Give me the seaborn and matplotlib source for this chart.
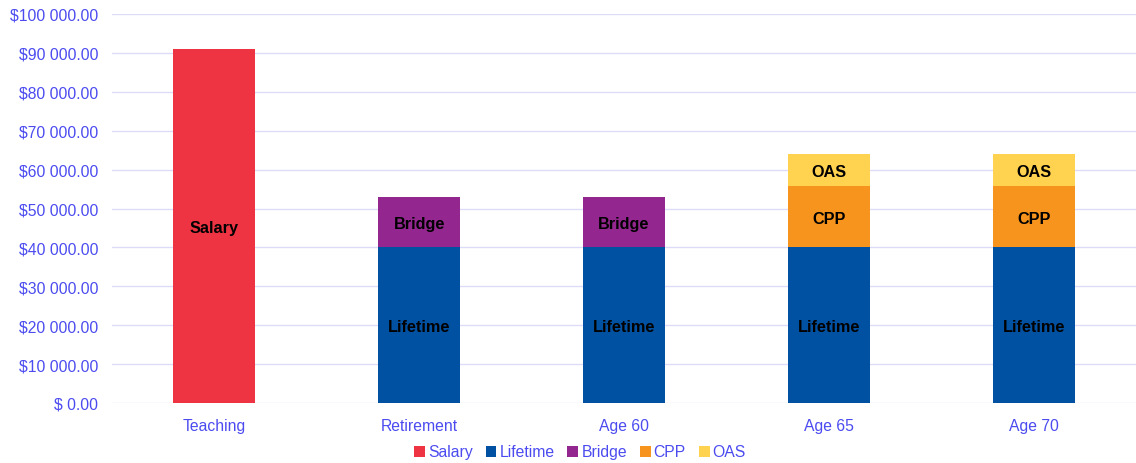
import numpy as np
import pandas as pd
import seaborn as sns
import matplotlib.pyplot as plt
from matplotlib.patches import Patch
from matplotlib.ticker import FuncFormatter

categories = ["Teaching", "Retirement", "Age 60", "Age 65", "Age 70"]
series = ["Salary", "Lifetime", "Bridge", "CPP", "OAS"]
salary = [91000, 0, 0, 0, 0]
lifetime = [0, 40100, 40100, 40100, 40100]
bridge = [0, 12800, 12800, 0, 0]
cpp = [0, 0, 0, 15600, 15600]
oas = [0, 0, 0, 8400, 8400]
colors = ["#EE3342", "#0051A2", "#93278F", "#F7941D", "#FFD24F"]
tick_color = "#4B4BF0"

sns.set_style("white")
plt.rcParams['font.family'] = ['Liberation Sans', 'DejaVu Sans']

values = np.array([salary, lifetime, bridge, cpp, oas], dtype=float)
tops = values.cumsum(axis=0)
bottoms = tops - values

fig = plt.figure(figsize=(11.36, 4.64), dpi=100)
ax = fig.add_axes([112 / 1136, 1 - 404 / 464, (1136 - 112) / 1136, (404 - 15) / 464])

# stacked bars: draw cumulative tops from the highest layer down
for i in range(len(series) - 1, -1, -1):
    df = pd.DataFrame({"cat": categories, "val": tops[i]})
    sns.barplot(data=df, x="cat", y="val", color=colors[i], width=0.4,
                saturation=1, linewidth=0, ax=ax, zorder=2)

# labels in the middle of each segment
for i, name in enumerate(series):
    for j in range(len(categories)):
        if values[i, j] > 0:
            ax.text(j, bottoms[i, j] + values[i, j] / 2, name, ha="center", va="center_baseline",
                    fontsize=11.7, fontweight="bold", color="black", zorder=3)

ax.set_ylim(0, 100000)
ax.set_xlim(-0.5, len(categories) - 0.5)
ax.set_yticks(np.arange(0, 100001, 10000))
ax.yaxis.set_major_formatter(FuncFormatter(
    lambda v, p: "$ 0.00" if v == 0 else "${:,.2f}".format(v).replace(",", " ")))
ax.grid(axis="y", color="#DCDCF8", linewidth=1, zorder=0)
ax.set_axisbelow(True)
for s in ax.spines.values():
    s.set_visible(False)
ax.tick_params(axis="both", length=0, labelsize=11.3, labelcolor=tick_color)
ax.tick_params(axis="y", pad=10)
ax.tick_params(axis="x", pad=11)
ax.set_xlabel("")
ax.set_ylabel("")

handles = [Patch(facecolor=c, edgecolor="none", label=s) for s, c in zip(series, colors)]
leg = fig.legend(handles=handles, loc="center", bbox_to_anchor=(580 / 1136, 1 - 453 / 464),
                 ncol=5, frameon=False, fontsize=11.3, handlelength=0.7, handleheight=0.7,
                 handletextpad=0.2, columnspacing=0.8)
for t in leg.get_texts():
    t.set_color(tick_color)

fig.savefig("out.png", dpi=100)
